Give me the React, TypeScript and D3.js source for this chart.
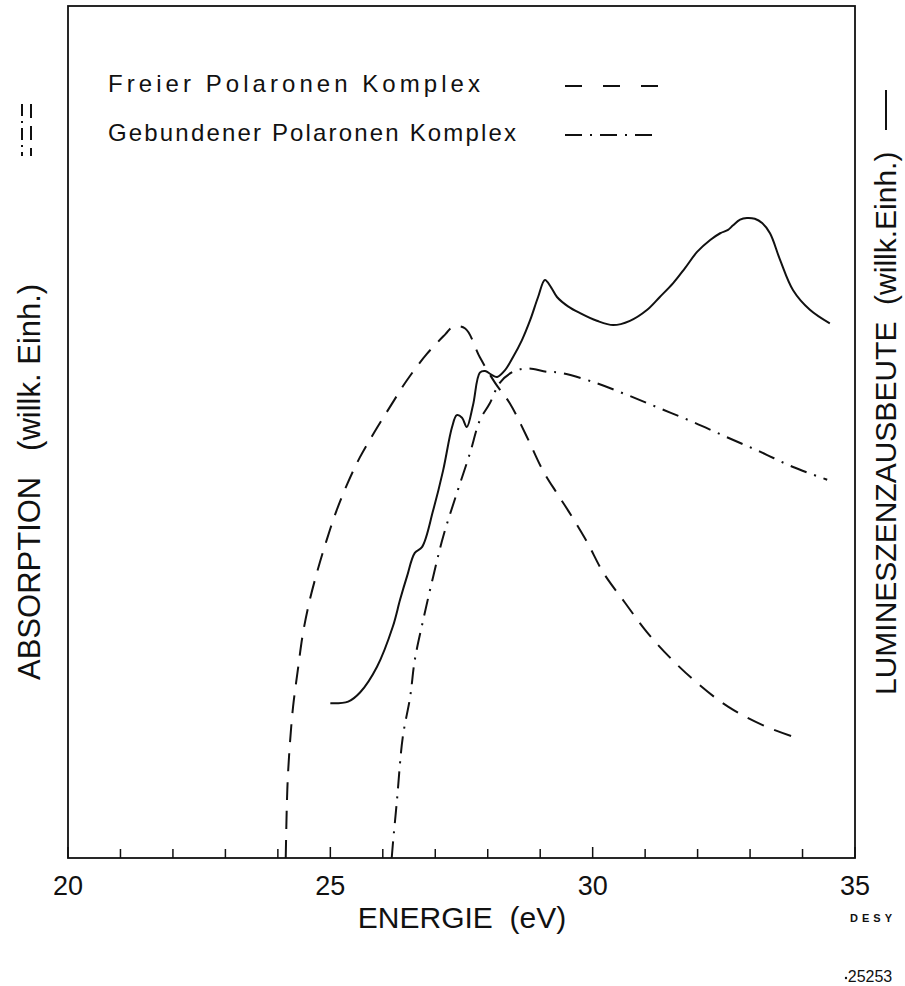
import React from "react";
import * as d3 from "d3";

// Energy (eV) and arbitrary-unit values
const freierX = [24.15, 24.17, 24.19, 24.23, 24.29, 24.38, 24.48, 24.61, 24.76, 24.93, 25.12, 25.33, 25.56, 25.83, 26.14, 26.46, 26.84, 27.19, 27.34, 27.57, 27.85, 28.14, 28.42, 28.75, 29.05, 29.32, 29.53, 29.89, 30.2, 30.62, 31.03, 31.47, 31.99, 32.58, 33.25, 33.95];
const freierY = [0, 6.0, 9.5, 13.5, 17.8, 22.1, 26.5, 30.4, 33.9, 37.4, 40.9, 44.1, 47.1, 50.0, 53.1, 56.2, 59.3, 61.6, 62.5, 62.3, 58.9, 55.9, 53.5, 49.5, 45.6, 42.9, 40.9, 37.2, 33.6, 30.0, 26.6, 23.6, 20.6, 17.8, 15.6, 14.0];

const gebundenX = [26.17, 26.19, 26.27, 26.38, 26.52, 26.61, 26.77, 26.96, 27.15, 27.41, 27.66, 27.85, 28.04, 28.23, 28.48, 28.75, 29.13, 29.38, 30.01, 30.65, 31.28, 31.91, 32.56, 33.19, 33.82, 34.47];
const gebundenY = [0, 1.5, 6.8, 14.2, 18.9, 23.3, 28.0, 33.1, 37.8, 42.9, 47.6, 51.5, 53.5, 55.9, 57.2, 57.6, 57.2, 57.1, 56.0, 54.5, 52.9, 51.3, 49.5, 47.8, 46.0, 44.5];

const lumiX = [25.0, 25.34, 25.57, 25.89, 26.19, 26.33, 26.46, 26.61, 26.75, 26.96, 27.15, 27.32, 27.41, 27.51, 27.6, 27.72, 27.85, 27.95, 28.06, 28.18, 28.33, 28.48, 28.65, 28.81, 28.96, 29.09, 29.21, 29.32, 29.53, 29.76, 30.08, 30.39, 30.71, 31.04, 31.28, 31.53, 31.76, 31.99, 32.24, 32.43, 32.58, 32.67, 32.81, 32.94, 33.09, 33.23, 33.38, 33.57, 33.82, 34.14, 34.52];
const lumiY = [18.2, 18.4, 19.5, 22.5, 27.2, 30.4, 33.1, 35.9, 36.6, 40.9, 45.6, 50.7, 52.1, 51.8, 50.7, 53.3, 57.1, 57.3, 56.9, 56.6, 57.4, 58.9, 60.9, 63.3, 66.0, 68.0, 67.1, 66.0, 64.9, 64.1, 63.2, 62.7, 63.2, 64.5, 66.0, 67.6, 69.4, 71.3, 72.7, 73.5, 73.9, 74.4, 75.1, 75.3, 75.2, 74.7, 73.5, 70.4, 66.8, 64.5, 62.9];

const xTicks = [20, 21, 22, 23, 24, 25, 26, 27, 28, 29, 30, 31, 32, 33, 34, 35];
const xTickLabels = [20, 25, 30, 35];
const legendLabels = ["Freier Polaronen Komplex", "Gebundener Polaronen Komplex"];

const W = 905, H = 986;
const left = 68, right = 855, top = 6, bottom = 858;
const FONT = "'Liberation Sans', Arial, sans-serif";

export default function App() {
  const x = d3.scaleLinear().domain([20, 35]).range([left, right]);
  const y = d3.scaleLinear().domain([0, 100]).range([bottom, 8]);
  const line = d3
    .line<[number, number]>()
    .x((d) => x(d[0]))
    .y((d) => y(d[1]))
    .curve(d3.curveCatmullRom.alpha(0.5));
  const zip = (a: number[], b: number[]) => a.map((v, i) => [v, b[i]] as [number, number]);

  const dashed = "18 11";
  const dashDot = "17 8 2 8";
  const stroke = "#111";

  return (
    <svg width={W} height={H} style={{ position: "absolute", left: 0, top: 0, background: "#fff" }}>
      <rect x={0} y={0} width={W} height={H} fill="#fff" />
      {/* frame */}
      <rect x={left} y={top} width={right - left} height={bottom - top} fill="none" stroke={stroke} strokeWidth={1.8} />
      {/* ticks */}
      {xTicks.map((t) => (
        <line key={t} x1={x(t)} x2={x(t)} y1={bottom} y2={bottom - (t % 5 === 0 ? 11 : 9)} stroke={stroke} strokeWidth={1.5} />
      ))}
      {xTickLabels.map((t) => (
        <text key={t} x={x(t)} y={bottom + 37} textAnchor="middle" fontFamily={FONT} fontSize={27} fill={stroke}>
          {t}
        </text>
      ))}
      <text x={462} y={928} textAnchor="middle" fontFamily={FONT} fontSize={30} fill={stroke}>
        ENERGIE{"\u00a0\u00a0"}(eV)
      </text>
      <text x={873} y={922} textAnchor="middle" fontFamily={FONT} fontSize={11} fontWeight="bold" letterSpacing={4} fill={stroke}>
        DESY
      </text>
      <circle cx={846} cy={978} r={1.2} fill={stroke} />
      <text x={870} y={982} textAnchor="middle" fontFamily={FONT} fontSize={16} fill={stroke}>
        25253
      </text>

      {/* curves */}
      <path d={line(zip(freierX, freierY)) || ""} fill="none" stroke={stroke} strokeWidth={2} strokeDasharray={dashed} />
      <path d={line(zip(gebundenX, gebundenY)) || ""} fill="none" stroke={stroke} strokeWidth={2} strokeDasharray={dashDot} />
      <path d={line(zip(lumiX, lumiY)) || ""} fill="none" stroke={stroke} strokeWidth={2} />

      {/* legend */}
      <text x={108} y={92} fontFamily={FONT} fontSize={24} textLength={372} lengthAdjust="spacing" fill={stroke}>
        {legendLabels[0]}
      </text>
      <text x={108} y={141} fontFamily={FONT} fontSize={24} textLength={408} lengthAdjust="spacing" fill={stroke}>
        {legendLabels[1]}
      </text>
      <line x1={565} x2={658} y1={86} y2={86} stroke={stroke} strokeWidth={2} strokeDasharray="17 21" />
      <line x1={565} x2={658} y1={135} y2={135} stroke={stroke} strokeWidth={2} strokeDasharray="17 8 2 8" />

      {/* left axis title */}
      <text transform={`translate(40,${680}) rotate(-90)`} fontFamily={FONT} fontSize={31} fill={stroke}>
        ABSORPTION{"\u00a0\u00a0\u00a0"}(willk. Einh.)
      </text>
      <line x1={22} x2={22} y1={104} y2={156} stroke={stroke} strokeWidth={2} strokeDasharray="12 5 2 5" />
      <line x1={31} x2={31} y1={104} y2={156} stroke={stroke} strokeWidth={2} strokeDasharray="14 8" />

      {/* right axis title */}
      <text transform={`translate(896,${695}) rotate(-90)`} fontFamily={FONT} fontSize={30} fill={stroke}>
        LUMINESZENZAUSBEUTE{"\u00a0\u00a0"}(willk.Einh.)
      </text>
      <line x1={886} x2={886} y1={90} y2={130} stroke={stroke} strokeWidth={2} />
    </svg>
  );
}
